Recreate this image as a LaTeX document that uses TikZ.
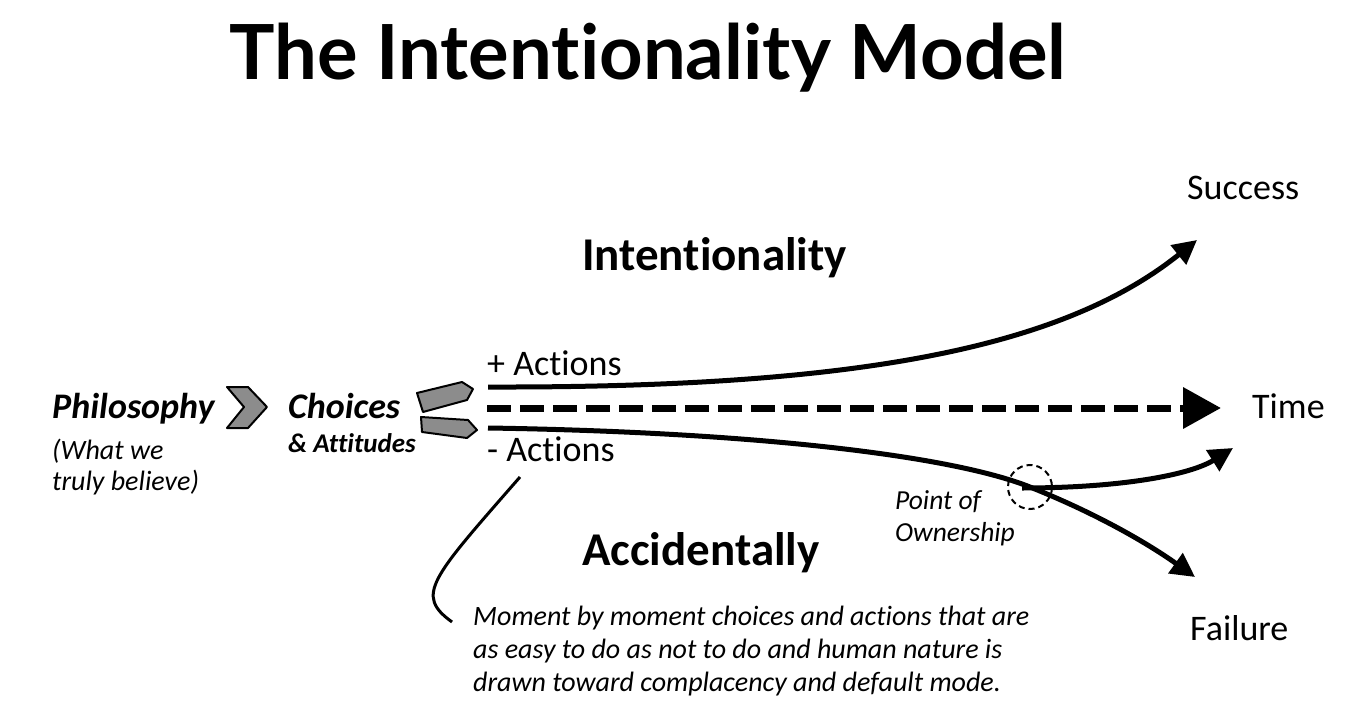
\documentclass[tikz,border=0pt]{standalone}
\usepackage{fontspec}
\setmainfont{Carlito}[Ligatures=NoCommon]
\newfontfamily\titlefont{Lato}[Ligatures=NoCommon]
\usetikzlibrary{arrows.meta}
\definecolor{chevgray}{RGB}{140,140,140}
\tikzset{
  lbl/.style={inner sep=0pt, anchor=base west},
  flow/.style={line width=5pt, -{Triangle[length=24pt,width=24pt]}},
  chev/.style={draw, line width=2pt, fill=chevgray, line join=round}
}
\begin{document}
\begin{tikzpicture}[x=1pt,y=-1pt]
\useasboundingbox (0,0) rectangle (1362,722);
% titles
\node[inner sep=0pt, anchor=base, font=\titlefont\bfseries\fontsize{76}{90}\selectfont] (title) at (648,80) {The Intentionality Model};
\node[lbl, font=\bfseries\fontsize{47}{56}\selectfont] (intent) at (582,270) {Intentionality};
\node[lbl, font=\bfseries\fontsize{47}{56}\selectfont] (accid) at (582,565) {Accidentally};
% left side
\node[lbl, font=\bfseries\itshape\fontsize{36}{43}\selectfont] (philo) at (52,418) {Philosophy};
\node[lbl, align=left, anchor=north west, font=\itshape\fontsize{28}{31}\selectfont] (philoNote) at (52,439) {(What we\\truly believe)};
\node[lbl, font=\bfseries\itshape\fontsize{36}{43}\selectfont] (choices) at (288,418) {Choices};
\node[lbl, font=\bfseries\itshape\fontsize{27}{31}\selectfont] (attitudes) at (288,452) {\& Attitudes};
\draw[chev] (227,387) -- (248,387) -- (267,407) -- (248,428) -- (227,428) -- (244,407) -- cycle;
\draw[chev] (417,393) -- (462,382) -- (473,389) -- (467,400) -- (423,412) -- cycle;
\draw[chev] (421,417) -- (468,420) -- (477,430) -- (467,438) -- (422,432) -- cycle;
% actions and ends
\node[lbl, font=\fontsize{36}{43}\selectfont] (plusAct) at (487,375) {+ Actions};
\node[lbl, font=\fontsize{36}{43}\selectfont] (minusAct) at (487,461) {- Actions};
\node[lbl, font=\fontsize{36}{43}\selectfont] (success) at (1187,200) {Success};
\node[lbl, font=\fontsize{36}{43}\selectfont] (time) at (1252,418) {Time};
\node[lbl, font=\fontsize{36}{43}\selectfont] (failure) at (1190,640) {Failure};
\node[lbl, align=left, anchor=north west, font=\itshape\fontsize{27.5}{32}\selectfont] (pointOwn) at (895,490) {Point of\\Ownership};
\node[lbl, align=left, anchor=north west, font=\itshape\fontsize{28}{33}\selectfont] (moment) at (473,606) {Moment by moment choices and actions that are\\as easy to do as not to do and human nature is\\drawn toward complacency and default mode.};
% paths
\coordinate (plusStart) at (488,387);
\coordinate (minusStart) at (488,428);
\coordinate (timeStart) at (487,408);
\coordinate (timeTip) at (1221,408);
\coordinate (successTip) at (1197,240);
\coordinate (failureTip) at (1195,577);
\coordinate (ownTip) at (1233,448);
\coordinate (own) at (1030,487);
\coordinate (noteTop) at (520,477);
\coordinate (noteEnd) at (452,622);
\draw[flow] (plusStart) .. controls (850,388) and (1060,350) .. (successTip);
\draw[line width=7pt, dash pattern=on 24pt off 9pt, -{Triangle[length=38pt,width=40pt]}] (timeStart) -- (timeTip);
\draw[flow] (minusStart) .. controls (750,432) and (950,455) .. (own) .. controls (1100,515) and (1150,545) .. (failureTip);
\draw[flow] (1022,488) .. controls (1120,488) and (1190,475) .. (ownTip);
\draw[line width=2pt, dash pattern=on 6pt off 4pt] (own) circle (22);
\draw[line width=3pt] (noteTop) .. controls (430,580) and (415,595) .. (noteEnd);
\end{tikzpicture}
\end{document}
